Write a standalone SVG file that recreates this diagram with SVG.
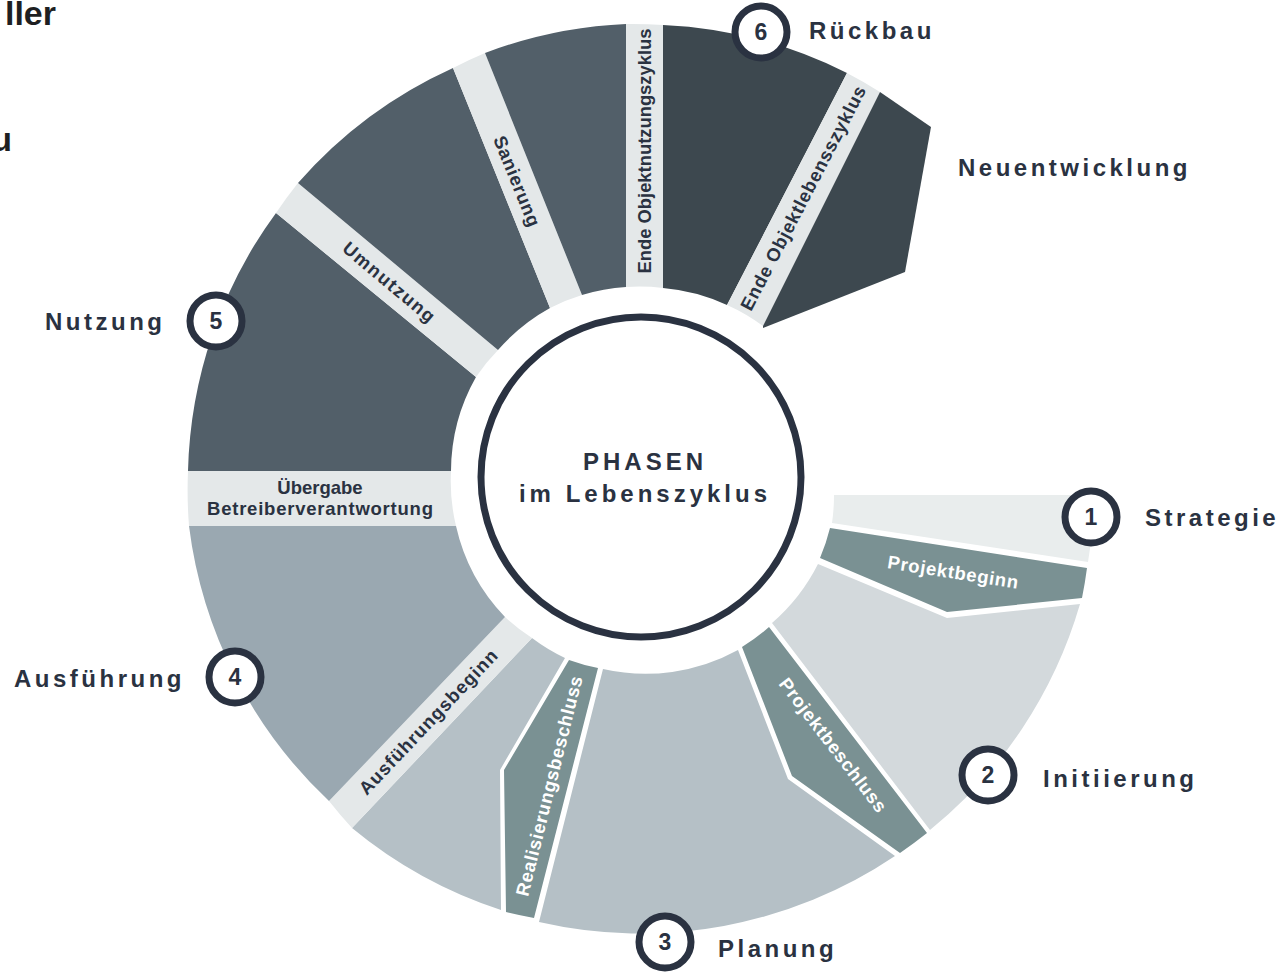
<svg xmlns="http://www.w3.org/2000/svg" width="1288" height="972" viewBox="0 0 1288 972">
<defs>
<style>
.t{font-family:"Liberation Sans",Arial,sans-serif;font-weight:bold;fill:#2a3241}
.lbl{font-size:24px;letter-spacing:3.5px}
.num{font-size:23px;text-anchor:middle}
.band{font-size:18.5px;text-anchor:middle;dominant-baseline:central}
.w{fill:#ffffff}
.ctr{font-size:24px;letter-spacing:4px;text-anchor:middle}
.title{font-family:"Liberation Sans",Arial,sans-serif;font-weight:bold;fill:#1e1f22;font-size:34px;text-anchor:end}
.dark{fill:#525f69}
.darker{fill:#3d484f}
.lightband{fill:#e4e8e9}
.teal{fill:#7a9193}
.strat{fill:#e9eded}
.init{fill:#d3d9dc}
.plan{fill:#b5c0c6}
.ausf{fill:#9aa8b1}
.ring{fill:#ffffff;stroke:#2a3241;stroke-width:7}
</style>
</defs>
<rect width="1288" height="972" fill="#ffffff"/>
<text class="title" x="56" y="25">ller</text>
<text class="title" x="12" y="151">u</text>

<g id="phase1-strategie">
<path class="strat" d="M834,495 L1095,495 A455,455 0 0 1 1088,562 L832,523 A192,192 0 0 0 834,495 Z"/>
</g>
<g id="ms-projektbeginn">
<path class="teal" d="M830,528 L1087,568 A455,455 0 0 1 1082,598 L947,612 L820,558 A192,192 0 0 0 830,528 Z"/>
<text class="t band w" transform="translate(953,572) rotate(9)" textLength="132" lengthAdjust="spacing">Projektbeginn</text>
</g>
<g id="phase2-initiierung">
<path class="init" d="M818,564 L947,618 L1080,604 A455,455 0 0 1 930,830 L772,623 A192,192 0 0 0 818,564 Z"/>
</g>
<g id="ms-projektbeschluss">
<path class="teal" d="M769,627 L927,833 A455,455 0 0 1 900,853 L792,776 L742,647 A192,192 0 0 0 769,627 Z"/>
<text class="t band w" transform="translate(833,745) rotate(52.5)" textLength="164" lengthAdjust="spacing">Projektbeschluss</text>
</g>
<g id="phase3-planung">
<path class="plan" d="M738,650 L788,779 L895,856 A455,455 0 0 1 539,922 L603,669 A192,192 0 0 0 738,650 Z"/>
</g>
<g id="ms-realisierungsbeschluss">
<path class="teal" d="M569,660 A192,192 0 0 0 598,668 L534,918 A455,455 0 0 1 506,912 L504,770 Z"/>
<text class="t band w" transform="translate(549,786) rotate(-76)" textLength="226" lengthAdjust="spacing">Realisierungsbeschluss</text>
</g>
<g id="phase4-ausfuehrung-b">
<path class="plan" d="M532,638 A192,192 0 0 0 565,658 L500,770 L501,910 A455,455 0 0 1 352,828 Z"/>
</g>
<g id="ms-ausfuehrungsbeginn">
<path class="lightband" d="M505,617 A192,192 0 0 0 532,638 L352,828 A455,455 0 0 1 329,801 Z"/>
<text class="t band" transform="translate(428,722) rotate(-46.5)" textLength="192" lengthAdjust="spacing">Ausführungsbeginn</text>
</g>
<g id="phase4-ausfuehrung">
<path class="ausf" d="M189,526 L456,526 A192,192 0 0 0 505,617 L329,801 A455,455 0 0 1 189,526 Z"/>
</g>
<g id="ms-uebergabe">
<path class="lightband" d="M188,471 L451,471 A192,192 0 0 0 456,526 L189,526 A455,455 0 0 1 188,471 Z"/>
<text class="t" font-size="18.5" text-anchor="middle" x="320" y="494">Übergabe</text>
<text class="t" font-size="18.5" text-anchor="middle" x="320" y="515" textLength="226" lengthAdjust="spacing">Betreiberverantwortung</text>
</g>
<g id="phase5-nutzung">
<path class="dark" d="M451,471 L188,471 A455,455 0 0 1 276,213 L476,377 A192,192 0 0 0 451,471 Z"/>
</g>
<g id="ms-umnutzung">
<path class="lightband" d="M276,213 A455,455 0 0 1 298,183 L498,350 A192,192 0 0 0 476,377 Z"/>
<text class="t band" transform="translate(389,282) rotate(40)" textLength="114" lengthAdjust="spacing">Umnutzung</text>
</g>
<g id="phase5-nutzung-b">
<path class="dark" d="M298,183 A455,455 0 0 1 453,68 L550,308 A192,192 0 0 0 498,350 Z"/>
</g>
<g id="ms-sanierung">
<path class="lightband" d="M453,68 A455,455 0 0 1 485,53 L582,295 A192,192 0 0 0 550,308 Z"/>
<text class="t band" transform="translate(517,181) rotate(68)" textLength="96" lengthAdjust="spacing">Sanierung</text>
</g>
<g id="phase5-nutzung-c">
<path class="dark" d="M485,53 A455,455 0 0 1 626,24 L626,287 A192,192 0 0 0 582,295 Z"/>
</g>
<g id="ms-ende-objektnutzungszyklus">
<path class="lightband" d="M626,24 A455,455 0 0 1 663,25 L663,288 A192,192 0 0 0 626,287 Z"/>
<text class="t band" transform="translate(644,151) rotate(-90)" textLength="245" lengthAdjust="spacingAndGlyphs">Ende Objektnutzungszyklus</text>
</g>
<g id="phase6-rueckbau">
<path class="darker" d="M663,25 A455,455 0 0 1 847,73 L727,305 A192,192 0 0 0 663,288 Z"/>
</g>
<g id="ms-ende-objektlebensszyklus">
<path class="lightband" d="M847,73 A455,455 0 0 1 880,92 L763,326 A192,192 0 0 0 727,305 Z"/>
<text class="t band" transform="translate(803,198) rotate(-62.5)" textLength="250" lengthAdjust="spacing">Ende Objektlebensszyklus</text>
</g>
<g id="neuentwicklung">
<path class="darker" d="M880,92 L931,127 L905,272 L763,328 L763,326 Z"/>
</g>

<g id="center">
<circle class="ring" cx="641" cy="477" r="160"/>
<text class="t ctr" x="645" y="470">PHASEN</text>
<text class="t ctr" x="645" y="502">im Lebenszyklus</text>
</g>

<g id="marker1">
<circle class="ring" cx="1091" cy="517" r="26"/>
<text class="t num" x="1091" y="525">1</text>
<text class="t lbl" x="1145" y="526">Strategie</text>
</g>
<g id="marker2">
<circle class="ring" cx="988" cy="775" r="26"/>
<text class="t num" x="988" y="783">2</text>
<text class="t lbl" x="1043" y="787">Initiierung</text>
</g>
<g id="marker3">
<circle class="ring" cx="665" cy="942" r="26"/>
<text class="t num" x="665" y="950">3</text>
<text class="t lbl" x="718" y="957">Planung</text>
</g>
<g id="marker4">
<circle class="ring" cx="235" cy="677" r="26"/>
<text class="t num" x="235" y="685">4</text>
<text class="t lbl" x="14" y="687">Ausführung</text>
</g>
<g id="marker5">
<circle class="ring" cx="216" cy="321" r="26"/>
<text class="t num" x="216" y="329">5</text>
<text class="t lbl" x="45" y="330">Nutzung</text>
</g>
<g id="marker6">
<circle class="ring" cx="761" cy="32" r="26"/>
<text class="t num" x="761" y="40">6</text>
<text class="t lbl" x="809" y="39">Rückbau</text>
</g>
<g id="label-neuentwicklung">
<text class="t lbl" x="958" y="176">Neuentwicklung</text>
</g>
<g id="connectors"/>
</svg>
